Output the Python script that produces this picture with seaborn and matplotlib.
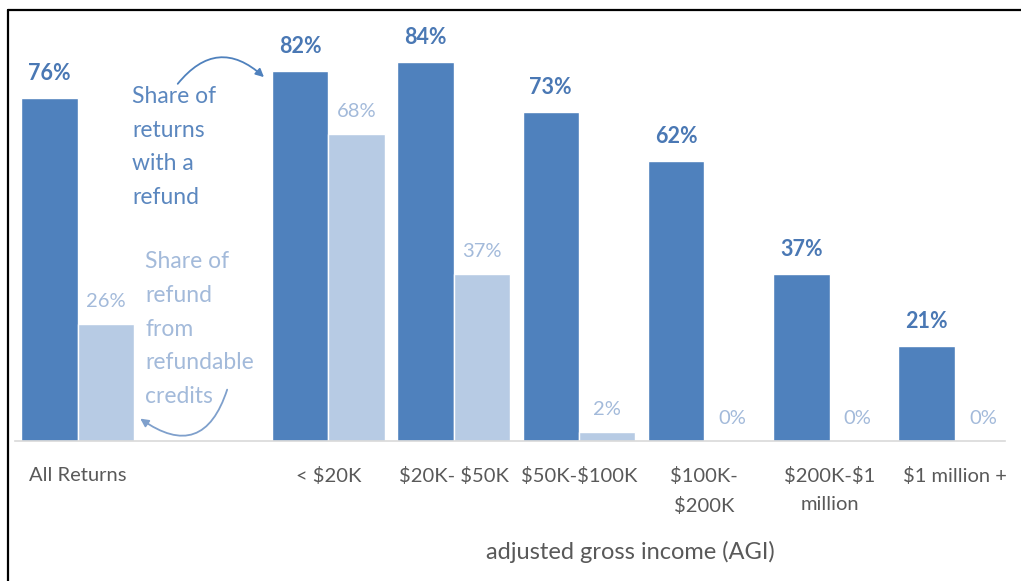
import matplotlib
matplotlib.use("Agg")
import matplotlib.pyplot as plt
from matplotlib.lines import Line2D
import seaborn as sns
import pandas as pd

categories = ["All Returns", " ", "< $20K", "$20K- $50K", "$50K-$100K",
              "$100K-\n$200K", "$200K-$1\nmillion", "$1 million +"]
groups = ["All Returns", "< $20K", "$20K- $50K", "$50K-$100K",
          "$100K-\n$200K", "$200K-$1\nmillion", "$1 million +"]
share_with_refund = [76, 82, 84, 73, 62, 37, 21]
share_refundable = [26, 68, 37, 2, 0, 0, 0]

DARK = "#4F81BD"
LIGHT = "#B7CBE4"
DARK_TXT = "#4A78B4"
LIGHT_TXT = "#A3BADA"
GREY = "#595959"

sns.set_style("white")
plt.rcParams["font.family"] = ["Lato", "DejaVu Sans"]
plt.rcParams["text.parse_math"] = False

df = pd.DataFrame({
    "group": groups * 2,
    "series": ["refund"] * len(groups) + ["credits"] * len(groups),
    "value": share_with_refund + share_refundable,
})

fig = plt.figure(figsize=(10.21, 5.81), dpi=100)
ax = fig.add_axes([15 / 1021, 140 / 581, 990 / 1021, 406 / 581])

sns.barplot(data=df, x="group", y="value", hue="series", order=categories,
            hue_order=["refund", "credits"],
            palette={"refund": DARK, "credits": LIGHT},
            width=0.9, legend=False, ax=ax, saturation=1)

ax.set_ylim(0, 90)
ax.set_xlim(-0.5, 7.4)

# value labels
c_dark, c_light = ax.containers[0], ax.containers[1]
ax.bar_label(c_dark, labels=[f"{v}%" for v in share_with_refund], padding=10,
             color=DARK_TXT, fontsize=15.5, fontweight="bold")
ax.bar_label(c_light, labels=[f"{v}%" for v in share_refundable], padding=10,
             color=LIGHT_TXT, fontsize=14.5)

for s in ["top", "right", "left"]:
    ax.spines[s].set_visible(False)
ax.spines["bottom"].set_color("#D9D9D9")
ax.spines["bottom"].set_linewidth(1.2)
ax.set_yticks([])
ax.set_ylabel("")
ax.tick_params(axis="x", length=0, pad=19, labelsize=14.5, labelcolor=GREY)
for t in ax.get_xticklabels():
    t.set_linespacing(1.75)
ax.set_xlabel("adjusted gross income (AGI)", fontsize=17, color=GREY)
ax.xaxis.set_label_coords((630 - 15) / 990, -0.245)

# annotations
fig.text(132, 581 - 86, "Share of\nreturns\nwith a\nrefund", transform=None,
         fontsize=16.5, color="#5B87BF", va="top", ha="left", linespacing=1.75)
fig.text(145, 581 - 251, "Share of\nrefund\nfrom\nrefundable\ncredits", transform=None,
         fontsize=16.5, color=LIGHT_TXT, va="top", ha="left", linespacing=1.75)

ax.annotate("", xy=(266, 581 - 79), xytext=(176, 581 - 86),
            xycoords="figure pixels", textcoords="figure pixels",
            arrowprops=dict(arrowstyle="-|>", color=DARK, lw=1.3,
                            connectionstyle="arc3,rad=-0.55", mutation_scale=12))
ax.annotate("", xy=(138, 581 - 417), xytext=(228, 581 - 387),
            xycoords="figure pixels", textcoords="figure pixels",
            arrowprops=dict(arrowstyle="-|>", color="#7FA0CC", lw=1.3,
                            connectionstyle="arc3,rad=-0.7", mutation_scale=12))

# frame lines (top and left)
fig.add_artist(Line2D([8 / 1021, 1], [1 - 10 / 581, 1 - 10 / 581],
                      transform=fig.transFigure, color="black", lw=1.6))
fig.add_artist(Line2D([8 / 1021, 8 / 1021], [0, 1 - 10 / 581],
                      transform=fig.transFigure, color="black", lw=1.6))

fig.savefig("out.png", dpi=100)
